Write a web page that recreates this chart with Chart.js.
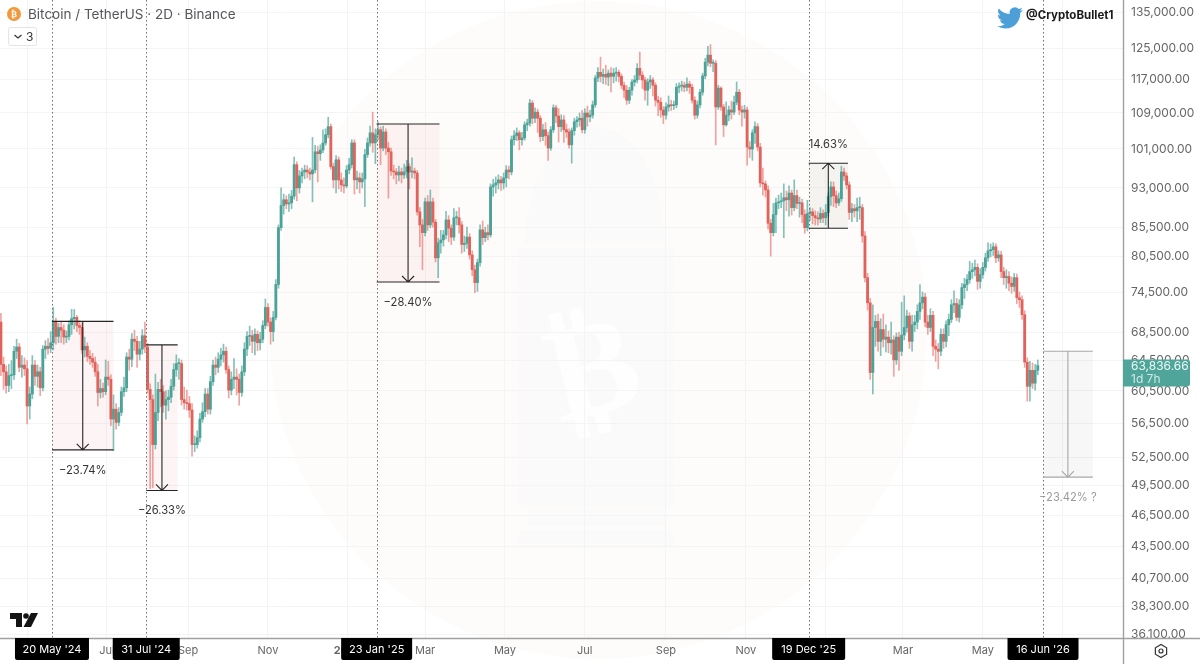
<!DOCTYPE html>
<html>
<head>
<meta charset="utf-8">
<title>Bitcoin / TetherUS 2D</title>
<style>
html, body { margin: 0; padding: 0; background: #fff; }
canvas { display: block; }
</style>
<script src="https://cdn.jsdelivr.net/npm/chart.js@4/dist/chart.umd.min.js"></script>
</head>
<body>
<canvas id="chart" width="1200" height="664"></canvas>
<script>
'use strict';

// 2D candles, prices in thousands of USDT
const firstCandle = '2024-04-11';
const firstOpen = 70;
const closes = [
  64,63,61.2,62.5,62.6,65.8,66.4,63.6,63.9,63.4,
  58.6,60.1,63.9,62.4,63,60.9,66.1,66.5,66.2,67,
  70.1,67.9,69.2,68.8,67.8,67.9,69.6,70.5,70.7,69.5,
  69.2,66,66.5,65.1,64.8,64.3,63,60.3,60.8,60.4,
  62.3,62,57,58.2,56.6,57.8,60.4,60.9,65,64.7,
  67.5,67.2,65.4,66.1,68,66.4,60.7,59.4,54,57.8,
  60.7,60.4,58.7,59.4,59.7,61.1,63.3,64.1,64.1,59.4,
  59,58.9,58.1,54,54,54.8,57,57.9,60.1,58.2,
  61.7,63.9,63.6,64.7,65.3,65.8,63.3,60.6,62,62.3,
  62,60.3,63,66.1,67.9,68,67.2,68.2,67,67.5,
  69.5,72.2,70,68.6,70.7,75.8,85.5,89.6,90.7,89.9,
  90.1,91.4,97.7,93,95.4,96.2,96.6,96.2,95.8,96.6,
  100.4,100,100.8,102.3,104.1,105.9,97.3,94.6,98.7,94.6,
  93.6,93.4,96.6,97.7,102.3,94.6,95,94.2,94.8,99.8,
  102.3,104.5,102.3,104.1,105.2,101.2,104.7,101.2,100.4,96.4,
  96.2,95.6,96.2,95.6,96.2,97.3,96.2,96.4,96,88.4,
  86,84.6,90.3,86,90.3,86.5,80.2,82.8,83.3,84.2,
  86.9,85.4,83.8,87.3,87.3,86,82.5,82.7,83.8,80.7,
  78.2,76.1,79.4,85.1,83.7,84.6,84.2,93.2,93.6,94,
  94.6,94,95,96.6,96.2,103,103.9,104.5,103,103.4,
  106.3,106.7,111.3,107.8,109.2,107.8,103.7,105.2,103.9,101.2,
  105.2,110.2,108.3,105.9,107.4,105.2,104.7,101.9,105,107,
  107.4,107.8,105.2,109,108.1,108.5,110.9,117.4,118.8,117.8,
  118.3,117.6,118.6,117.8,118.6,118.8,117.8,115.6,114.4,112,
  114.4,116.4,116.9,119.8,118.1,116.9,114.4,116.4,116.9,115.6,
  112,111.5,109.7,108.5,110.4,110.9,110.7,110.9,115.1,115.4,
  115.6,115.1,115.9,115.1,112,108.5,110.9,113.9,117.9,121.4,
  123.2,121.1,121.1,110.4,114.9,110.4,106.3,108.5,109.7,109.2,
  111.5,113.9,109.7,109.2,109.7,101.4,101,104.5,105.9,101.4,
  94,93.8,92.6,86.3,84.6,87.9,90.1,90.3,90.5,91.1,
  90.7,92,89.2,91.5,90,90.1,87.9,85.5,88.1,88.4,
  87.7,87.3,87.1,88.1,87.3,88.3,91.3,93.2,91.5,90.1,
  90.9,96.2,95.4,93.6,88.3,89,88.6,89.2,89.2,84,
  76.9,72.9,62.9,69.2,70.1,67.2,68.9,67.5,67.8,67,
  67.4,64.6,67.8,65.8,68.1,69.2,70.9,67.2,69.6,70,
  71.6,72.9,73.8,70,69.2,71,66.5,66.1,65.8,68.2,
  67.2,69.6,70.4,72.6,72.8,70.7,72.6,75.3,75.8,76.6,
  77.9,78.2,78.6,76.3,77.4,78.6,80.2,81.4,81.6,82.1,
  80.2,80.7,77.9,76.9,77.1,76,75.5,76.9,73.7,73.4,
  71.1,64.3,61.1,63.2,61.5,63.2,63.84
];
const highs = [
  71.3,65,63.8,64,64.5,66.5,67.5,66.9,65.2,64.9,
  64.5,61,65.2,64.5,63.9,63.6,66.6,67.3,67.6,68.6,
  72.2,70.6,69.8,70,69.6,68.7,70.2,71.9,71.9,71,
  70.2,69.8,67.8,67,65.9,65.5,65,64,62,61.5,
  64.6,64.4,62.6,60,58.9,58.4,61,62.3,65.6,66.1,
  68.3,68.8,67.9,67.2,68.9,70,66.9,61.4,60,62.7,
  61.6,62,61.2,60.5,60.6,62,64.1,65.3,64.8,64.6,
  61,60.6,59.8,58.9,55,55.6,57.7,59,60.8,60.8,
  62.4,64.6,65,65.6,66.2,66.8,66.4,63.8,63,64.8,
  63.4,62.7,63.8,67,68.6,69.4,68.8,69,68.7,68.5,
  70.2,73.5,72.8,70.6,71.6,76.6,86,93,91.8,91.5,
  91.8,92.5,99.3,98.3,96.5,97,97.6,97.5,97,103.5,
  101.8,101.6,101.9,105.2,105.4,108,106.5,98,99.6,99.3,
  96,95,97.5,99,103,103,96.4,96,96,100.9,
  103.4,106,109.2,105.4,107,105.8,106,105.4,102.4,101.2,
  97.6,96.9,97.4,97,97.8,98.6,97.9,99.1,97,96.5,
  89.2,87,91,91.5,92.6,91,87,83.6,85,85,
  88.5,87.7,86,89,88.5,89.2,86.6,84,85.6,84.4,
  81.4,79,80,86,86.7,85.6,86,93.8,94.7,95.2,
  95.6,95.3,96,97.5,97.4,103.8,105,105.6,105,104.6,
  107,107.6,112.2,111.9,110.2,109.9,108.4,106.4,106.8,104.6,
  105.9,110.9,110.8,110,108.6,108.4,106.5,105.4,105.6,107.8,
  108.2,109,109.6,110,110.6,109.6,111.8,118,120,122.7,
  119.6,120.6,119.4,120,119.8,120,119.4,118.4,116.4,115.5,
  115.1,117,118,121,124,119,117.6,117.2,118,117.5,
  116.2,113,112.6,110.5,111.4,113,112,111.8,116,116.2,
  116.6,116.4,117.4,116.6,115.8,112.8,111.8,114.6,118.6,122.4,
  125.5,126,122,121.8,115.6,115.2,111,111.6,110.6,111.8,
  113,116.4,114.6,110.6,110.8,110.4,102.6,105.2,107,106.6,
  102.2,97,94.4,93.4,87,90,91,91.6,92,93.8,
  92.4,93.4,92.6,94.6,92.6,91.2,90.8,88.8,90.6,89.2,
  89,88.6,88.4,89.2,88.8,89.8,92,94.2,94.2,92.4,
  92,97.4,97,96,94.2,90,89.8,91,91.2,89.8,
  84.8,77.6,73.6,72.6,71,71.2,70.5,71.2,69.6,68.7,
  70,68,68.4,68.5,73,74,71.8,71.4,71,71,
  72.6,75.8,74.6,74.4,71,72,71.6,67.4,66.9,69,
  69,70.2,71.2,73.4,74.8,73.6,73.4,76,76.8,77.4,
  79.6,79.3,79.8,79.2,78.4,79.4,81,82.8,82.6,82.8,
  82.6,81.4,81.3,78.6,78.2,77.9,77,77.6,77.5,74.6,
  74,71.7,64.9,64.4,64.2,64,64.6
];
const lows = [
  62.5,60.7,60.2,60.4,60.8,62,64.8,63,62.3,62.5,
  56.4,57,59.5,61.2,61,59.9,60.5,64.8,65.4,65.6,
  66,66.8,67,67,66.8,67,67.4,68.2,69,68.6,
  68.2,65.5,65,64.4,64,63.6,62.4,58.6,59.6,59.7,
  60,61.2,56.2,53.3,55.8,56.2,57.4,59.8,60.4,63.2,
  63.7,65.9,63.6,64.6,65.4,65.6,60.2,49.2,49.3,53.5,
  56.8,58.5,57.8,57,58,59,60.6,62.4,62,58.7,
  58.2,58.1,57.2,52.7,53.2,53.6,54.3,56.6,57.3,57.6,
  57.6,61.2,62.6,62.9,63.8,64.3,62.8,59.6,60,60.8,
  60,58.7,59.8,62.5,65.2,66.6,65.6,65.3,65.9,66,
  67,69,69.4,66.8,67.2,70.3,75.2,85,88,89,
  88.5,89,90.8,90.5,92,94,94.8,95,94.6,90.3,
  96,94.2,98.6,100.2,101.8,103.4,96.8,93,92,92.8,
  92.3,92,93,95.8,97,91.8,92.8,92,93,89.4,
  99.2,101.6,100.3,97.9,103,97.7,100.6,99.8,91,95.5,
  94.8,93.8,94.4,94,94.9,95,92.8,95,94.8,87.8,
  82.1,78.2,84,85,85.5,85.6,79.5,76.9,81,82.2,
  83.5,83,82.5,83.2,86,84.5,81,81.3,81.8,80,
  77.2,74.5,74.7,78.8,82.5,83,83.3,83.8,91.4,92,
  92.8,92.5,92.8,93.2,94.8,95.6,101.8,102.8,100.8,101.8,
  102.9,105,106,106.5,106.8,104.6,102.6,102.8,101.8,98.6,
  100.7,104.6,106.8,102.5,104.8,102.4,103.5,101.2,98,104,
  105.8,106,104.5,104.4,106,107,107.8,110.3,116.5,116.4,
  116,115.8,115.5,114,116.2,116.6,116.4,114.8,112.6,111,
  111.2,113.2,115.4,116.2,117,114.8,112,110.8,114.8,113,
  110.6,108.4,108,106.6,107.6,109.4,109.6,109.8,110.2,113.8,
  114.2,114,114.2,113.6,111.3,107.6,107.8,110.2,113.2,117.2,
  120.4,120.2,119,101.9,109.8,109.6,103.7,106,107.2,107.6,
  108.6,110.9,108.6,106,107.8,97.6,99.2,98.6,102.2,100.6,
  93.2,91.6,91.2,85.2,80.5,84,84.6,89,89.2,83.7,
  88.6,87.6,87.8,88.6,89,87.4,86.4,84.5,84.9,86.8,
  86.2,86,86,86.4,86.4,86,87.6,89.6,89.4,89.2,
  89.6,90.4,94.5,92.8,87,86.6,87.4,86.6,87,82.9,
  76.2,71.8,62,60.1,66.5,65.8,65.2,66.4,65.7,65.6,
  65.4,62.4,64,63.2,65.2,67.4,68.5,66.2,65.8,68.6,
  69,70.4,72,69.3,68.2,68.6,65.2,64.4,63.4,65.2,
  66.2,66.4,68,69.9,71.4,70.2,70,72,73.6,74.8,
  76,76.8,77.2,75,75.2,76.8,78,79.6,80.4,80.6,
  79.4,79.6,76.9,75.8,75.2,74.8,74.4,74.7,72.8,72.2,
  70.4,63.6,59.2,59.2,60.8,60.6,62.6
];

const priceTicks = [135000,125000,117000,109000,101000,93000,85500,80500,74500,68500,64500,60500,56500,52500,49500,46500,43500,40700,38300,36100];
const monthDates = ['2024-05-01','2024-07-01','2024-09-01','2024-11-01','2025-01-01','2025-03-01','2025-05-01','2025-07-01','2025-09-01','2025-11-01','2026-01-01','2026-03-01','2026-05-01','2026-07-01'];
const monthNames = ['May','Jul','Sep','Nov','2025','Mar','May','Jul','Sep','Nov','2026','Mar','May','Jul'];

const markerDates = ['2024-05-20','2024-07-31','2025-01-23','2025-12-19','2026-06-16'];
const markerNames = ["20 May '24","31 Jul '24","23 Jan '25","19 Dec '25","16 Jun '26"];

// measure tools: start date, end date, from price, to price, caption
const measureEnds = ['2024-07-06','2024-08-24','2025-03-12','2026-01-18','2026-07-24'];
const measureFrom = [70100,66700,106500,85400,65800];
const measureTo = [53400,49000,76200,98000,50400];
const measureText = ['\u221223.74%','\u221226.33%','\u221228.40%','14.63%','\u221223.42% ?'];

const lastPrice = 63836.66;
const lastCountdown = '1d 7h';

const UP = '#4ba398', DOWN = '#e1625b';
const UP_WICK = 'rgba(75,163,152,0.68)', DOWN_WICK = 'rgba(225,98,91,0.58)';
const FONT = 'Inter, "Noto Sans", sans-serif';

const dayOf = s => Date.parse(s + 'T00:00:00Z') / 864e5;
const startDay = dayOf(firstCandle);
const candleDays = closes.map((_, i) => startDay + i * 2);
const opens = closes.map((_, i) => i === 0 ? firstOpen : closes[i - 1]);
const isUp = closes.map((c, i) => c >= opens[i]);

const wickData = closes.map((_, i) => ({ x: candleDays[i], y: [lows[i] * 1000, highs[i] * 1000] }));
const bodyData = closes.map((c, i) => ({ x: candleDays[i], y: [Math.min(opens[i], c) * 1000, Math.max(opens[i], c) * 1000] }));

function roundBox(ctx, x, y, w, h, r, color) {
    ctx.fillStyle = color;
    ctx.beginPath();
    ctx.roundRect(x, y, w, h, r);
    ctx.fill();
}

// --- WATERMARK (under the grid) ---
function drawWatermark(ctx) {
    ctx.save();
    ctx.fillStyle = '#fefcfb';
    ctx.beginPath();
    ctx.arc(598, 330, 329, 0, Math.PI * 2);
    ctx.fill();

    ctx.fillStyle = '#fafafa';
    ctx.beginPath();
    ctx.moveTo(525, 243);
    ctx.bezierCurveTo(528, 170, 560, 127, 595, 127);
    ctx.bezierCurveTo(632, 127, 662, 170, 665, 243);
    ctx.closePath();
    ctx.fill();
    ctx.fillRect(519, 248, 154, 259);
    ctx.fillRect(528, 510, 137, 16);
    ctx.fillRect(519, 530, 154, 18);

    ctx.translate(595, 378);
    ctx.rotate(-0.24);
    ctx.fillStyle = '#fffefe';
    ctx.font = 'bold 135px "DejaVu Sans"';
    ctx.textAlign = 'center';
    ctx.textBaseline = 'middle';
    ctx.fillText('\u20bf', 0, 0);
    ctx.restore();
}

// --- MEASURE TOOLS + DATE MARKERS ---
function drawMeasureFill(chart) {
    const { ctx, scales: { x, y } } = chart;
    ctx.save();
    measureEnds.forEach((end, i) => {
        const x0 = x.getPixelForValue(dayOf(markerDates[i]));
        const x1 = x.getPixelForValue(dayOf(end));
        const y0 = y.getPixelForValue(measureFrom[i]);
        const y1 = y.getPixelForValue(measureTo[i]);
        ctx.fillStyle = i === 3 ? 'rgba(120,130,100,0.07)' : i === 4 ? 'rgba(120,120,120,0.06)' : 'rgba(225,80,80,0.06)';
        ctx.fillRect(x0, y0, x1 - x0, y1 - y0);
    });
    ctx.restore();
}

function drawMeasureLines(chart) {
    const { ctx, scales: { x, y }, chartArea } = chart;
    ctx.save();
    markerDates.forEach(d => {
        const px = Math.round(x.getPixelForValue(dayOf(d))) + 0.5;
        ctx.strokeStyle = '#6f6f6f';
        ctx.lineWidth = 1;
        ctx.setLineDash([1.5, 2.5]);
        ctx.beginPath();
        ctx.moveTo(px, chartArea.top);
        ctx.lineTo(px, chartArea.bottom);
        ctx.stroke();
    });
    ctx.setLineDash([]);
    measureEnds.forEach((end, i) => {
        const x0 = x.getPixelForValue(dayOf(markerDates[i]));
        const x1 = x.getPixelForValue(dayOf(end));
        const y0 = y.getPixelForValue(measureFrom[i]);
        const y1 = y.getPixelForValue(measureTo[i]);
        const mid = (x0 + x1) / 2;
        const dir = y1 > y0 ? -1 : 1;
        ctx.strokeStyle = i === 4 ? '#a8a8a8' : '#262626';
        ctx.lineWidth = 1.1;
        ctx.beginPath();
        ctx.moveTo(x0, y0); ctx.lineTo(x1, y0);
        ctx.moveTo(x0, y1); ctx.lineTo(x1, y1);
        ctx.moveTo(mid, y0); ctx.lineTo(mid, y1);
        ctx.moveTo(mid - 6, y1 + dir * 6); ctx.lineTo(mid, y1); ctx.lineTo(mid + 6, y1 + dir * 6);
        ctx.stroke();

        ctx.fillStyle = i === 4 ? '#9a9a9a' : '#333';
        ctx.font = '11.2px ' + FONT;
        ctx.textAlign = 'center';
        ctx.textBaseline = 'middle';
        ctx.fillText(measureText[i], mid, i === 3 ? y1 - 19 : y1 + 20.5);
    });
    ctx.restore();
}

// --- HEADER, LOGOS, AXIS OVERLAYS ---
function drawOverlay(chart) {
    const { ctx, scales: { x, y } } = chart;
    const right = 1123, bottom = 638;
    ctx.save();

    // the axis strip hides whatever runs past the bottom line
    ctx.fillStyle = '#fff';
    ctx.fillRect(right + 1, bottom, 1200 - right, 664 - bottom);
    ctx.strokeStyle = '#a0a0a0';
    ctx.lineWidth = 1.4;
    ctx.beginPath();
    ctx.moveTo(0, bottom + 0.5); ctx.lineTo(1200, bottom + 0.5);
    ctx.moveTo(right + 0.5, 0); ctx.lineTo(right + 0.5, 664);
    ctx.stroke();

    // date flags
    ctx.font = '11px ' + FONT;
    ctx.textAlign = 'center';
    ctx.textBaseline = 'middle';
    const flagWidths = [74, 67, 71, 73, 71];
    markerDates.forEach((d, i) => {
        const px = x.getPixelForValue(dayOf(d));
        roundBox(ctx, px - flagWidths[i] / 2, bottom, flagWidths[i], 22, [0, 0, 2, 2], '#000');
        ctx.fillStyle = '#fff';
        ctx.fillText(markerNames[i], px, bottom + 12);
    });

    // last price flag
    const py = y.getPixelForValue(lastPrice);
    roundBox(ctx, right, py - 6, 67, 27, [0, 3, 3, 0], '#4fa59a');
    ctx.textAlign = 'left';
    ctx.fillStyle = '#eef8f6';
    ctx.font = '12px ' + FONT;
    ctx.fillText(lastPrice.toLocaleString('en-US', { minimumFractionDigits: 2 }), right + 8, py + 1);
    ctx.fillStyle = '#cfe9e5';
    ctx.fillText(lastCountdown, right + 8, py + 14);

    // title
    ctx.fillStyle = '#f0993e';
    ctx.beginPath();
    ctx.arc(14, 14, 7, 0, Math.PI * 2);
    ctx.fill();
    ctx.fillStyle = '#fff';
    ctx.font = 'bold 9px "DejaVu Sans"';
    ctx.textAlign = 'center';
    ctx.fillText('\u20bf', 14, 14.5);
    ctx.textAlign = 'left';
    ctx.fillStyle = '#55565c';
    ctx.font = '13.5px ' + FONT;
    ctx.fillText('Bitcoin / TetherUS \u00b7 2D \u00b7 Binance', 28, 14.5);

    // collapsed legend
    ctx.strokeStyle = '#e4e4e4';
    ctx.lineWidth = 1;
    ctx.fillStyle = '#fff';
    ctx.beginPath();
    ctx.roundRect(8.5, 27.5, 28, 18, 2);
    ctx.fill();
    ctx.stroke();
    ctx.strokeStyle = '#333';
    ctx.lineWidth = 1.2;
    ctx.beginPath();
    ctx.moveTo(14.5, 35); ctx.lineTo(18, 38); ctx.lineTo(21.5, 35);
    ctx.stroke();
    ctx.fillStyle = '#333';
    ctx.font = '12px ' + FONT;
    ctx.fillText('3', 26, 37);

    // twitter handle
    ctx.save();
    ctx.translate(997, 5);
    ctx.scale(1.08, 1.08);
    ctx.fillStyle = '#4d9fd8';
    ctx.fill(new Path2D('M23.953 4.57a10 10 0 01-2.825.775 4.958 4.958 0 002.163-2.723c-.951.555-2.005.959-3.127 1.184a4.92 4.92 0 00-8.384 4.482C7.69 8.095 4.067 6.13 1.64 3.162a4.822 4.822 0 00-.666 2.475c0 1.71.87 3.213 2.188 4.096a4.904 4.904 0 01-2.228-.616v.06a4.923 4.923 0 003.946 4.827 4.996 4.996 0 01-2.212.085 4.936 4.936 0 004.604 3.417 9.867 9.867 0 01-6.102 2.105c-.39 0-.779-.023-1.17-.067a13.995 13.995 0 007.557 2.209c9.053 0 13.998-7.496 13.998-13.985 0-.21 0-.42-.015-.63A9.935 9.935 0 0024 4.59z'));
    ctx.restore();
    ctx.fillStyle = '#1a1a1a';
    ctx.font = 'bold 11.5px ' + FONT;
    ctx.fillText('@CryptoBullet1', 1026, 15.5);

    // TradingView mark
    ctx.fillStyle = '#131313';
    ctx.beginPath();
    ctx.moveTo(10, 613); ctx.lineTo(22, 613); ctx.lineTo(22, 627); ctx.lineTo(16, 627); ctx.lineTo(16, 619); ctx.lineTo(10, 619);
    ctx.closePath();
    ctx.fill();
    ctx.beginPath();
    ctx.arc(26, 616, 2.8, 0, Math.PI * 2);
    ctx.fill();
    ctx.beginPath();
    ctx.moveTo(31, 613); ctx.lineTo(38, 613); ctx.lineTo(31, 627); ctx.lineTo(23.5, 627);
    ctx.closePath();
    ctx.fill();

    // settings icon
    ctx.strokeStyle = '#333';
    ctx.lineWidth = 1.2;
    ctx.beginPath();
    for (let k = 0; k < 6; k++) {
        const a = Math.PI / 6 + k * Math.PI / 3;
        ctx.lineTo(1161 + 6.5 * Math.sin(a + Math.PI / 6), 651 + 6.5 * Math.cos(a + Math.PI / 6));
    }
    ctx.closePath();
    ctx.stroke();
    ctx.beginPath();
    ctx.arc(1161, 651, 2, 0, Math.PI * 2);
    ctx.stroke();
    ctx.restore();
}

const overlayPlugin = {
    id: 'overlay',
    beforeDraw: chart => {
        chart.ctx.save();
        chart.ctx.fillStyle = '#fff';
        chart.ctx.fillRect(0, 0, 1200, 664);
        chart.ctx.restore();
        drawWatermark(chart.ctx);
    },
    beforeDatasetsDraw: drawMeasureFill,
    afterDatasetsDraw: drawMeasureLines,
    afterDraw: drawOverlay
};

// tick labels must not push the plot area away from the canvas edges
function noPadding(s) {
    s.paddingLeft = s.paddingRight = s.paddingTop = s.paddingBottom = 0;
}

new Chart(document.getElementById('chart').getContext('2d'), {
    type: 'bar',
    data: {
        datasets: [
            {
                label: 'Wicks',
                data: wickData,
                backgroundColor: isUp.map(u => u ? UP_WICK : DOWN_WICK),
                barThickness: 1,
                grouped: false,
                order: 2
            },
            {
                label: 'Bodies',
                data: bodyData,
                backgroundColor: isUp.map(u => u ? UP : DOWN),
                barThickness: 2.2,
                minBarLength: 1,
                grouped: false,
                order: 1
            }
        ]
    },
    options: {
        responsive: false,
        animation: false,
        devicePixelRatio: 1,
        layout: { padding: 0 },
        plugins: { legend: { display: false }, tooltip: { enabled: false } },
        scales: {
            x: {
                type: 'linear',
                offset: false,
                min: dayOf(markerDates[0]) - 39.7,
                max: dayOf(markerDates[0]) + 818.1,
                afterBuildTicks: s => { s.ticks = monthDates.map(d => ({ value: dayOf(d) })); },
                afterFit: s => { s.height = 26; noPadding(s); },
                grid: { color: '#f5f4f4', lineWidth: 1, drawTicks: false, offset: false },
                border: { display: false },
                ticks: {
                    autoSkip: false,
                    maxRotation: 0,
                    padding: 6,
                    color: '#666',
                    font: ctx => ({ family: FONT, size: 11, weight: (ctx.tick && /^\d/.test(ctx.tick.label)) ? 'bold' : 'normal' }),
                    callback: v => monthNames[monthDates.findIndex(d => dayOf(d) === v)]
                }
            },
            y: {
                type: 'logarithmic',
                position: 'right',
                min: 35847,
                max: 138476,
                afterBuildTicks: s => { s.ticks = priceTicks.map(v => ({ value: v })); },
                afterFit: s => { s.width = 77; noPadding(s); },
                grid: { color: '#f5f4f4', lineWidth: 1, drawTicks: false },
                border: { display: false },
                ticks: {
                    autoSkip: false,
                    crossAlign: 'near',
                    padding: 8,
                    color: '#666',
                    font: { family: FONT, size: 12 },
                    callback: v => v.toLocaleString('en-US', { minimumFractionDigits: 2 })
                }
            }
        }
    },
    plugins: [overlayPlugin]
});
</script>
</body>
</html>
